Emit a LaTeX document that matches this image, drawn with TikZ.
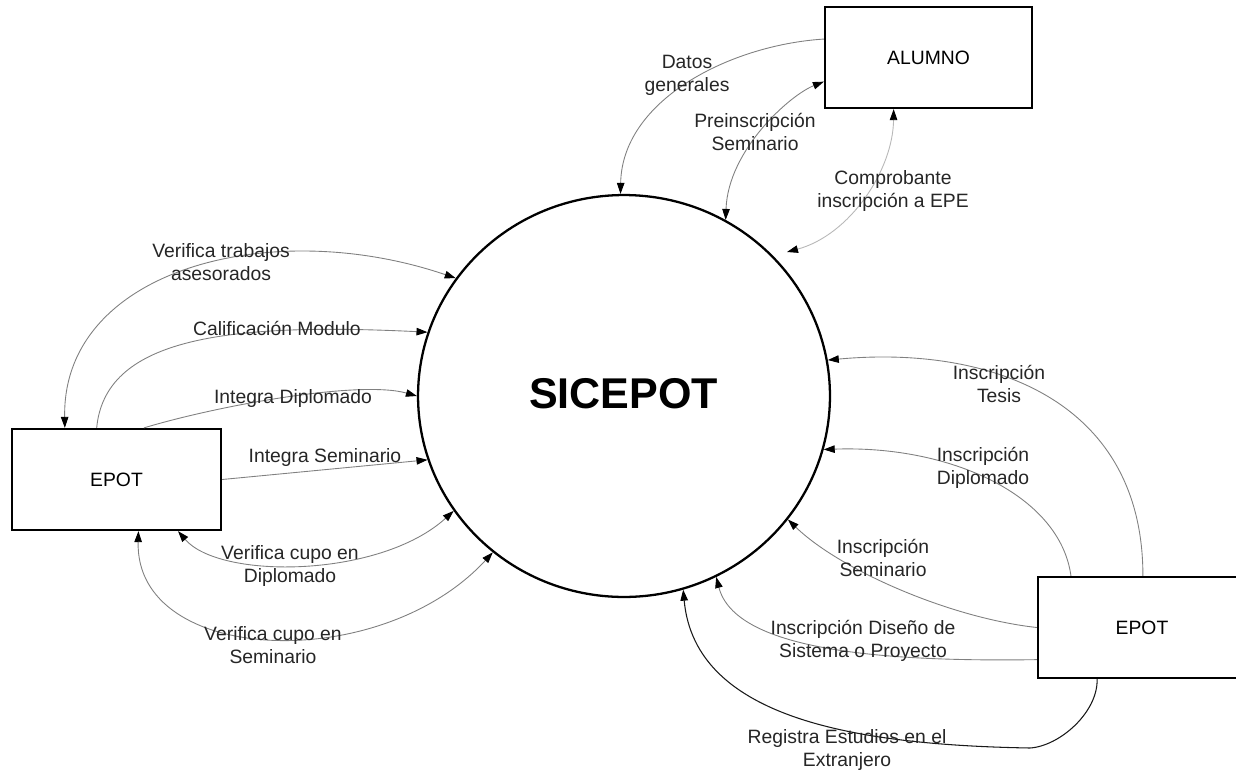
\documentclass[tikz,border=0pt]{standalone}
\usepackage{fontspec}
\setmainfont{Liberation Sans}
\usetikzlibrary{arrows.meta,shapes.geometric}
\begin{document}
\begin{tikzpicture}[x=0.02cm,y=-0.02cm,
  box/.style={draw, line width=1.3pt, minimum height=2.02cm, inner sep=0pt, font=\fontsize{11}{13}\selectfont},
  lbl/.style={align=center, font=\fontsize{11}{13}\selectfont, inner sep=0pt, text=black!85},
  flow/.style={draw=black!50, line width=0.5pt},
  faint/.style={draw=black!28, line width=0.5pt},
  reg/.style={draw=black!90, line width=0.6pt},
  tip/.style={-{Triangle[length=0.22cm,width=0.15cm,color=black]}},
  both/.style={{Triangle[length=0.22cm,width=0.15cm,color=black]}-{Triangle[length=0.22cm,width=0.15cm,color=black]}}]
\useasboundingbox (0,0) rectangle (1236,771);
\fill[white] (0,0) rectangle (1236,771);

% main process
\node[ellipse, draw, line width=1.3pt, minimum width=8.24cm, minimum height=8.04cm, inner sep=0pt] (c) at (624,396) {};
\node[font=\fontsize{24.5}{28}\selectfont\bfseries, inner sep=0pt] (t) at (623.5,394) {SICEPOT};

% entities
\node[box, minimum width=4.14cm] (al) at (928.5,57.5) {ALUMNO};
\node[box, minimum width=4.18cm] (ep1) at (116.5,479.5) {EPOT};
\node[box, minimum width=4.16cm] (ep2) at (1142,627.5) {EPOT};

\coordinate (cp) at (787,252);
\coordinate (rk) at (1030,748);

% ALUMNO flows
\draw[flow,tip] (al.170) .. controls (730,45) and (622,100) .. (c.91);
\draw[flow,both] (al.193) .. controls (790,95) and (728,150) .. (c.60);
\draw[faint,both] (al.-124) .. controls (893,170) and (850,235) .. (cp);

% left EPOT flows
\draw[flow,both] (ep1.135) .. controls (62,270) and (270,215) .. (c.145);
\draw[flow,tip] (ep1.111) .. controls (105,340) and (220,322) .. (c.162);
\draw[flow,tip] (ep1.62) .. controls (220,405) and (360,380) .. (c.180);
\draw[flow,tip] (ep1.east) -- (c.198);
\draw[flow,both] (ep1.-40) .. controls (220,580) and (380,578) .. (c.214);
\draw[flow,both] (ep1.-67) .. controls (135,665) and (380,675) .. (c.230);

% right EPOT flows
\draw[flow,tip] (ep2.89) .. controls (1143,400) and (990,345) .. (c.10);
\draw[flow,tip] (ep2.144) .. controls (1060,495) and (950,445) .. (c.-15);
\draw[flow,tip] (ep2.180) .. controls (950,618) and (840,570) .. (c.-37.5);
\draw[flow,tip] (ep2.197) .. controls (880,662) and (735,650) .. (c.-63);
\draw[reg,tip] (ep2.229) .. controls (1098,712) and (1060,746) .. (rk) .. controls (860,745) and (695,720) .. (c.-73);

% labels
\node[lbl] (l1) at (687,75) {Datos\\generales};
\node[lbl] (l2) at (755,132) {Preinscripción\\Seminario};
\node[lbl] (l3) at (893,191) {Comprobante\\inscripción a EPE};
\node[lbl] (l4) at (221,262) {Verifica trabajos\\asesorados};
\node[lbl] (l5) at (277,328) {Calificación Modulo};
\node[lbl] (l6) at (293,398) {Integra Diplomado};
\node[lbl] (l7) at (325,457) {Integra Seminario};
\node[lbl] (l8) at (290,566) {Verifica cupo en\\Diplomado};
\node[lbl] (l9) at (273,645) {Verifica cupo en\\Seminario};
\node[lbl] (l10) at (999,384) {Inscripción\\Tesis};
\node[lbl] (l11) at (983,468) {Inscripción\\Diplomado};
\node[lbl] (l12) at (883,558) {Inscripción\\Seminario};
\node[lbl] (l13) at (863,641) {Inscripción Diseño de\\Sistema o Proyecto};
\node[lbl] (l14) at (847,750) {Registra Estudios en el\\Extranjero};
\end{tikzpicture}
\end{document}
